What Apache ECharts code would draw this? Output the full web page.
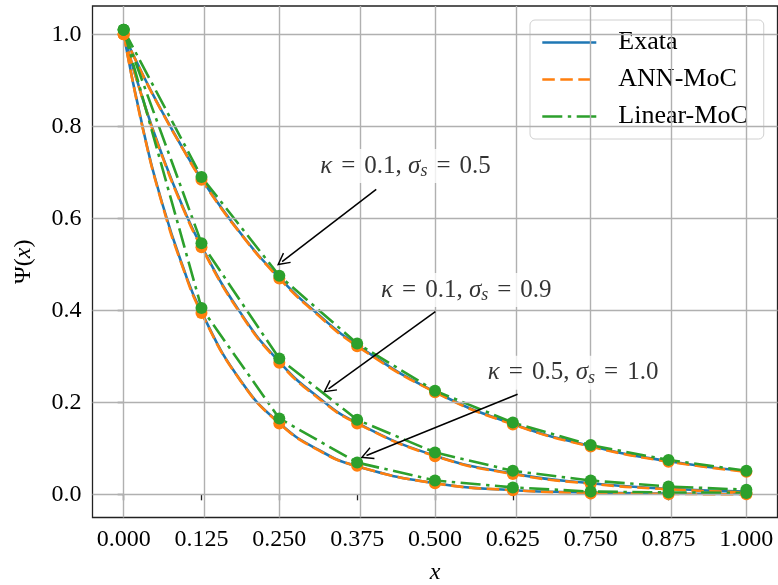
<!DOCTYPE html>
<html>
<head>
<meta charset="utf-8">
<script src="https://cdn.jsdelivr.net/npm/echarts@6/dist/echarts.min.js"></script>
<style>
  html, body { margin: 0; padding: 0; background: #fff; }
  #chart { width: 778px; height: 585px; }
</style>
</head>
<body>
<div id="chart"></div>
<script>
// pontos da malha (nós) e pontos para as curvas suaves
const xNodes = [0, 0.125, 0.25, 0.375, 0.5, 0.625, 0.75, 0.875, 1.0];
const xFine = [0, 0.03125, 0.0625, 0.09375, 0.125, 0.1875, 0.25, 0.3125, 0.375, 0.5, 0.625, 0.75, 0.875, 1.0];

const xTicks = [0, 0.125, 0.25, 0.375, 0.5, 0.625, 0.75, 0.875, 1.0];
const yTicks = [0, 0.2, 0.4, 0.6, 0.8, 1.0];

// solucao exata (kappa=0.1 s=0.5 | kappa=0.1 s=0.9 | kappa=0.5 s=1.0)
const exataA = [1.0, 0.911, 0.830, 0.755, 0.686, 0.568, 0.471, 0.391, 0.324, 0.223, 0.153, 0.105, 0.072, 0.050];
const exataB = [1.0, 0.857, 0.735, 0.629, 0.539, 0.395, 0.288, 0.211, 0.155, 0.084, 0.045, 0.024, 0.012, 0.006];
const exataC = [1.0, 0.794, 0.630, 0.500, 0.396, 0.248, 0.155, 0.097, 0.061, 0.024, 0.009, 0.004, 0.0015, 0.0006];

// ANN-MoC
const annA = [1.0, 0.910, 0.829, 0.754, 0.684, 0.567, 0.469, 0.389, 0.322, 0.222, 0.152, 0.104, 0.071, 0.049];
const annB = [1.0, 0.856, 0.733, 0.627, 0.537, 0.393, 0.286, 0.209, 0.154, 0.083, 0.044, 0.023, 0.011, 0.004];
const annC = [1.0, 0.792, 0.628, 0.498, 0.394, 0.247, 0.154, 0.096, 0.061, 0.024, 0.009, 0.003, 0.001, 0.0];

// ANN-MoC nos nós
const annNodeA = [1.0, 0.684, 0.469, 0.322, 0.222, 0.152, 0.104, 0.071, 0.049];
const annNodeB = [1.0, 0.537, 0.286, 0.154, 0.083, 0.044, 0.023, 0.010, 0.003];
const annNodeC = [1.0, 0.394, 0.154, 0.062, 0.024, 0.009, 0.002, 0.0, 0.0];

// Linear-MoC (nós)
const linA = [1.01, 0.690, 0.475, 0.328, 0.225, 0.156, 0.107, 0.0746, 0.0514];
const linB = [1.01, 0.546, 0.295, 0.162, 0.091, 0.051, 0.030, 0.017, 0.010];
const linC = [1.01, 0.405, 0.165, 0.069, 0.030, 0.015, 0.006, 0.004, 0.003];

const noteTexts = [
  ["0.1", "0.5"],
  ["0.1", "0.9"],
  ["0.5", "1.0"]
];

const BLUE = "#1f77b4";
const ORANGE = "#ff7f0e";
const GREEN = "#2ca02c";
const FONT = "'Liberation Serif', 'DejaVu Serif', serif";

function pairs(xs, ys) {
  return xs.map((x, i) => [x, ys[i]]);
}

function curve(name, xs, ys, color, type, smooth, z) {
  return {
    name: name,
    type: "line",
    data: pairs(xs, ys),
    smooth: smooth ? 0.5 : false,
    symbol: "none",
    showSymbol: false,
    z: z,
    lineStyle: { color: color, width: 2.6, type: type, cap: "butt" },
    itemStyle: { color: color }
  };
}

function dots(name, ys, color, z) {
  return {
    name: name,
    type: "scatter",
    data: pairs(xNodes, ys),
    symbolSize: 12,
    z: z,
    itemStyle: { color: color, opacity: 1 }
  };
}

const dashed = [12.5, 5.5];
const dashDot = [20, 5.5, 3.4, 5.5];

// posição das anotações (coordenadas de dados)
const notePos = [[0.4526, 0.7137], [0.5503, 0.444], [0.7218, 0.264]];
const arrows = [
  [[0.4056, 0.663], [0.2545, 0.506]],
  [[0.5006, 0.397], [0.329, 0.2294]],
  [[0.6326, 0.2174], [0.390, 0.0844]]
];

const chart = echarts.init(document.getElementById("chart"));

const option = {
  animation: false,
  backgroundColor: "#fff",
  textStyle: { fontFamily: FONT },
  grid: {
    left: 92.5, right: 0.5, top: 6, bottom: 67.5,
    outerBoundsMode: "none",
    containLabel: false,
    show: true, borderColor: "#222", borderWidth: 1.3,
    backgroundColor: "transparent"
  },
  legend: {
    orient: "vertical",
    left: 530, top: 20,
    data: ["Exata", "ANN-MoC", "Linear-MoC"],
    itemWidth: 54, itemHeight: 14, itemGap: 10,
    padding: [9, 16, 9, 11],
    itemStyle: { opacity: 0 },
    lineStyle: { width: 2.6 },
    backgroundColor: "rgba(255,255,255,0.8)",
    borderColor: "#d0d0d0", borderWidth: 1, borderRadius: 5,
    textStyle: { fontFamily: FONT, fontSize: 26, color: "#000", padding: [0, 0, 0, 17], lineHeight: 27 }
  },
  xAxis: {
    type: "value", min: -0.05, max: 1.05,
    name: "x", nameLocation: "middle", nameGap: 43,
    nameTextStyle: { fontFamily: FONT, fontSize: 24, fontStyle: "italic", color: "#000" },
    axisLine: { show: false },
    axisTick: { show: true, customValues: xTicks, length: 6, lineStyle: { color: "#222", width: 1.3 } },
    axisLabel: { customValues: xTicks, formatter: v => v.toFixed(3), fontFamily: FONT, fontSize: 24, color: "#000", margin: 10 },
    splitLine: { show: false }
  },
  yAxis: {
    type: "value", min: -0.0504, max: 1.0615,
    name: "{n|Ψ(}{i|x}{n|)}", nameLocation: "middle", nameGap: 57, nameRotate: 90,
    nameTextStyle: {
      rich: {
        n: { fontFamily: FONT, fontSize: 24, color: "#000" },
        i: { fontFamily: FONT, fontSize: 24, fontStyle: "italic", color: "#000" }
      }
    },
    axisLine: { show: false },
    axisTick: { show: true, customValues: yTicks, length: 6, lineStyle: { color: "#222", width: 1.3 } },
    axisLabel: { customValues: yTicks, formatter: v => v.toFixed(1), fontFamily: FONT, fontSize: 24, color: "#000", margin: 11 },
    splitLine: { show: false }
  },
  series: [
    {
      name: "grade", type: "line", data: [], z: 1, silent: true,
      markLine: {
        silent: true, symbol: ["none", "none"], label: { show: false },
        lineStyle: { color: "#b0b0b0", width: 1.4, type: "solid" },
        data: xTicks.map(v => ({ xAxis: v })).concat(yTicks.map(v => ({ yAxis: v })))
      }
    },
    curve("Exata", xFine, exataA, BLUE, "solid", true, 2),
    curve("ANN-MoC", xFine, annA, ORANGE, dashed, true, 3),
    curve("Linear-MoC", xNodes, linA, GREEN, dashDot, false, 4),
    curve("Exata", xFine, exataB, BLUE, "solid", true, 2),
    curve("ANN-MoC", xFine, annB, ORANGE, dashed, true, 3),
    curve("Linear-MoC", xNodes, linB, GREEN, dashDot, false, 4),
    curve("Exata", xFine, exataC, BLUE, "solid", true, 2),
    curve("ANN-MoC", xFine, annC, ORANGE, dashed, true, 3),
    curve("Linear-MoC", xNodes, linC, GREEN, dashDot, false, 4),
    dots("ANN-MoC nós A", annNodeA, ORANGE, 5),
    dots("ANN-MoC nós B", annNodeB, ORANGE, 5),
    dots("ANN-MoC nós C", annNodeC, ORANGE, 5),
    dots("Linear-MoC nós A", linA, GREEN, 6),
    dots("Linear-MoC nós C", linC, GREEN, 6),
    dots("Linear-MoC nós B", linB, GREEN, 6),
    {
      name: "setas", type: "line", data: [], z: 7, silent: true,
      markLine: {
        silent: true,
        symbol: ["none", "path://M0,12 L6,0 L12,12 L10.8,12.6 L6,3 L1.2,12.6 Z"],
        symbolSize: [13, 13],
        label: { show: false },
        lineStyle: { color: "#000", width: 1.5, type: "solid" },
        data: arrows.map(a => [{ coord: a[0] }, { coord: a[1] }])
      }
    },
    {
      name: "notas", type: "scatter", z: 8, silent: true,
      data: notePos,
      symbolSize: 1,
      itemStyle: { color: "transparent" },
      label: {
        show: true, position: "inside",
        backgroundColor: "#fff", padding: [3, 6], borderRadius: 4,
        formatter: p => {
          const t = noteTexts[p.dataIndex];
          return "{i|κ}{e|=}{n|" + t[0] + ", }{i|σ}{s|s}{e|=}{n|" + t[1] + "}";
        },
        rich: {
          n: { fontFamily: FONT, fontSize: 25, color: "#000" },
          e: { fontFamily: FONT, fontSize: 25, color: "#000", padding: [0, 9, 0, 9] },
          i: { fontFamily: FONT, fontSize: 25, fontStyle: "italic", color: "#000" },
          s: { fontFamily: FONT, fontSize: 18, fontStyle: "italic", color: "#000", padding: [10, 0, 0, 0] }
        }
      }
    }
  ]
};

chart.setOption(option);
</script>
</body>
</html>
